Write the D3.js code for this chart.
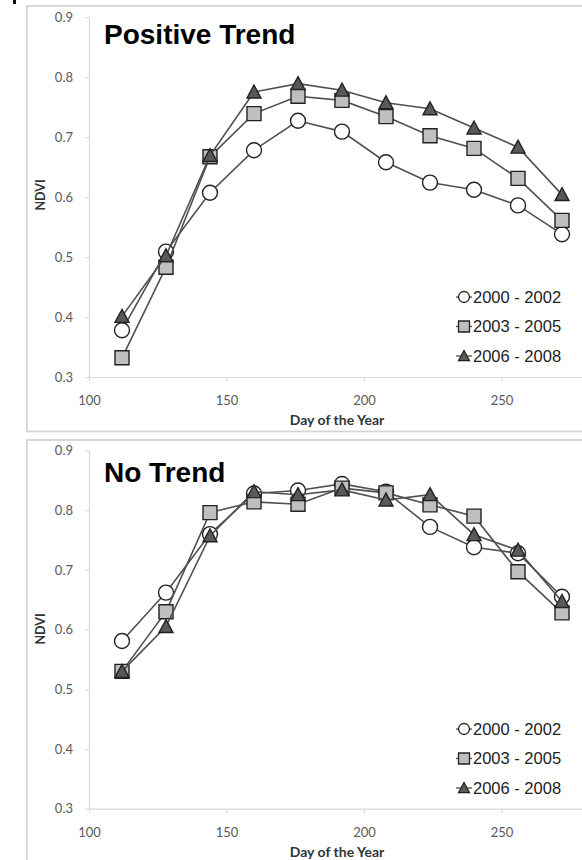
<!DOCTYPE html>
<html>
<head>
<meta charset="utf-8">
<style>
  body { margin: 0; background: #fff; }
  svg { display: block; }
  .tick text { font-family: Lato, "Open Sans", sans-serif; font-size: 13px; fill: #595959; }
  .tick line, .domain { stroke: #d9d9d9; stroke-width: 1.2; }
</style>
</head>
<body>
<svg width="582" height="860"></svg>

<script src="https://d3js.org/d3.v7.min.js"></script>
<script>
  // day of year of each 16-day composite
  const days = [112, 128, 144, 160, 176, 192, 208, 224, 240, 256, 272];
  const seriesNames = ["2000 - 2002", "2003 - 2005", "2006 - 2008"];
  const xTicks = [100, 150, 200, 250];
  const yTicks = [0.3, 0.4, 0.5, 0.6, 0.7, 0.8, 0.9];

  // Positive Trend panel
  const posA = [0.378, 0.509, 0.607, 0.678, 0.727, 0.709, 0.658, 0.624, 0.612, 0.586, 0.538];
  const posB = [0.332, 0.483, 0.667, 0.739, 0.768, 0.761, 0.734, 0.702, 0.681, 0.631, 0.561];
  const posC = [0.401, 0.502, 0.669, 0.775, 0.789, 0.778, 0.757, 0.747, 0.715, 0.683, 0.604];

  // No Trend panel
  const noA = [0.581, 0.662, 0.760, 0.828, 0.833, 0.844, 0.831, 0.772, 0.738, 0.728, 0.655];
  const noB = [0.530, 0.630, 0.796, 0.814, 0.810, 0.837, 0.829, 0.809, 0.790, 0.697, 0.628];
  const noC = [0.530, 0.605, 0.757, 0.831, 0.826, 0.834, 0.817, 0.826, 0.759, 0.733, 0.647];

  const svg = d3.select("svg");

  const markerStyle = [
    { shape: "circle", fill: "#ffffff" },
    { shape: "square", fill: "#bfbfbf" },
    { shape: "triangle", fill: "#595959" }
  ];

  function markerPath(shape, s) {
    // s = overall marker size in px
    const h = s / 2;
    if (shape === "circle") {
      const p = d3.path();
      p.arc(0, 0, h, 0, 2 * Math.PI);
      return p.toString();
    }
    if (shape === "square") return `M${-h},${-h}H${h}V${h}H${-h}Z`;
    return `M0,${-h}L${h},${h * 0.85}L${-h},${h * 0.85}Z`;
  }

  function drawPanel(cfg) {
    const g = svg.append("g");

    g.append("rect")
      .attr("x", 27).attr("y", cfg.top)
      .attr("width", 640).attr("height", cfg.frameH)
      .attr("fill", "#fff")
      .attr("stroke", "#d4d4d4")
      .attr("stroke-width", 1.8);

    const x = d3.scaleLinear().domain([100, 300]).range([89, 639]);
    const y = d3.scaleLinear().domain([0.3, 0.9]).range(cfg.yRange);

    g.append("g")
      .attr("transform", `translate(0,${cfg.yRange[0]})`)
      .call(d3.axisBottom(x).tickValues(xTicks).tickSize(4).tickPadding(15).tickSizeOuter(0));

    g.append("g")
      .attr("transform", "translate(89,0)")
      .call(d3.axisLeft(y).tickValues(yTicks).tickSize(4).tickPadding(12)
        .tickFormat(d3.format(".1f")).tickSizeOuter(0));

    g.append("text")
      .attr("x", 337).attr("y", cfg.yRange[0] + 48)
      .attr("text-anchor", "middle")
      .style("font-family", "Lato, sans-serif")
      .style("font-weight", "bold")
      .style("font-size", "14px")
      .attr("fill", "#333")
      .text("Day of the Year");

    g.append("text")
      .attr("transform", `translate(45,${cfg.ndviY}) rotate(-90)`)
      .attr("text-anchor", "middle")
      .style("font-family", "Lato, sans-serif")
      .style("font-weight", "bold")
      .style("font-size", "12.5px")
      .attr("fill", "#333")
      .text("NDVI");

    g.append("text")
      .attr("x", 104).attr("y", cfg.titleY)
      .style("font-family", "'Liberation Sans', Arial, sans-serif")
      .style("font-weight", "bold")
      .style("font-size", "28px")
      .attr("fill", "#000")
      .text(cfg.title);

    const line = d3.line().x((d, i) => x(days[i])).y(d => y(d));

    cfg.series.forEach((vals, si) => {
      const sg = g.append("g");
      sg.append("path")
        .attr("d", line(vals))
        .attr("fill", "none")
        .attr("stroke", "#505050")
        .attr("stroke-width", 1.6);
      sg.selectAll("path.m")
        .data(vals)
        .join("path")
        .attr("class", "m")
        .attr("transform", (d, i) => `translate(${x(days[i])},${y(d)})`)
        .attr("d", markerPath(markerStyle[si].shape, si === 0 ? 15 : 14))
        .attr("fill", markerStyle[si].fill)
        .attr("stroke", "#222")
        .attr("stroke-width", 1.4);
    });

    // legend
    const lg = g.append("g");
    seriesNames.forEach((name, i) => {
      const ly = cfg.legendY + i * 29.5;
      lg.append("line")
        .attr("x1", 456).attr("x2", 472)
        .attr("y1", ly).attr("y2", ly)
        .attr("stroke", "#505050").attr("stroke-width", 1.3);
      lg.append("path")
        .attr("transform", `translate(464,${ly})`)
        .attr("d", markerPath(markerStyle[i].shape, 11))
        .attr("fill", markerStyle[i].fill)
        .attr("stroke", "#222")
        .attr("stroke-width", 1.3);
      lg.append("text")
        .attr("x", 473).attr("y", ly)
        .attr("dy", "0.36em")
        .style("font-family", "'Liberation Sans', Arial, sans-serif")
        .style("font-size", "16.5px")
        .attr("fill", "#222")
        .text(name);
    });
  }

  drawPanel({
    title: "Positive Trend", top: 6, frameH: 425.5,
    yRange: [377, 17], titleY: 44, ndviY: 195, legendY: 297,
    series: [posA, posB, posC]
  });

  drawPanel({
    title: "No Trend", top: 440, frameH: 500,
    yRange: [808.7, 450.5], titleY: 482, ndviY: 629, legendY: 729,
    series: [noA, noB, noC]
  });

  // scrap of a cropped letter at the top-left corner
  svg.append("rect").attr("x", 13).attr("y", 0).attr("width", 3).attr("height", 4).attr("fill", "#111");
</script>
</body>
</html>
